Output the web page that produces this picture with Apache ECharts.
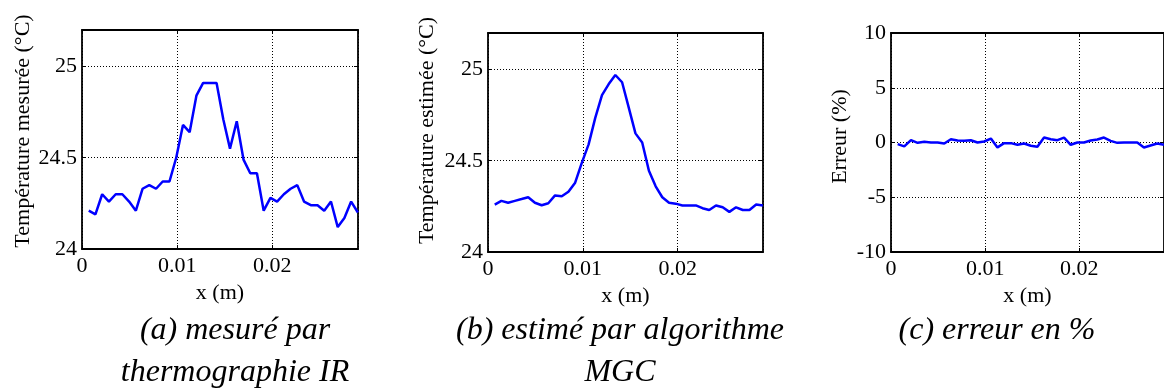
<!DOCTYPE html>
<html><head><meta charset="utf-8">
<script src="https://cdn.jsdelivr.net/npm/echarts@6/dist/echarts.min.js"></script>
<style>html,body{margin:0;padding:0;background:#fff;overflow:hidden}#c{width:1164px;height:389px}</style>
</head><body><div id="c"></div><script>
// Positions along x (m)
const xPos = [0.00071,0.00141,0.00212,0.00283,0.00354,0.00424,0.00495,0.00566,0.00636,0.00707,
  0.00778,0.00848,0.00919,0.00990,0.01061,0.01131,0.01202,0.01273,0.01343,0.01414,
  0.01485,0.01555,0.01626,0.01697,0.01768,0.01838,0.01909,0.01980,0.02050,0.02121,
  0.02192,0.02262,0.02333,0.02404,0.02475,0.02545,0.02616,0.02687,0.02757,0.02828,0.02899];
// (a) measured temperature (°C)
const tempMeasured = [24.21,24.19,24.30,24.26,24.30,24.30,24.26,24.21,24.33,24.35,
  24.33,24.37,24.37,24.50,24.68,24.64,24.84,24.91,24.91,24.91,
  24.71,24.55,24.70,24.49,24.415,24.415,24.21,24.28,24.26,24.30,
  24.33,24.35,24.26,24.24,24.24,24.21,24.26,24.12,24.17,24.26,24.20];
// (b) estimated temperature (°C)
const tempEstimated = [24.26,24.28,24.27,24.28,24.29,24.30,24.27,24.256,24.267,24.31,
  24.305,24.33,24.38,24.49,24.59,24.735,24.86,24.92,24.97,24.93,
  24.79,24.65,24.60,24.445,24.36,24.30,24.27,24.265,24.255,24.255,
  24.255,24.24,24.23,24.255,24.245,24.22,24.245,24.23,24.23,24.26,24.255];
// (c) error (%)
const errorPct = [-0.15,-0.36,0.21,-0.03,0.06,0,0,-0.09,0.30,0.18,
  0.15,0.21,0,0.09,0.36,-0.45,-0.06,-0.06,-0.21,-0.09,
  -0.30,-0.39,0.45,0.30,0.21,0.45,-0.21,0,0,0.18,
  0.27,0.45,0.15,-0.03,0,0,0,-0.45,-0.27,-0.09,-0.21];
const xTicks = [0, 0.01, 0.02];
const tempTicks = [24, 24.5, 25];
const errTicks = [-10, -5, 0, 5, 10];
const yNames = ['Température mesurée (°C)', 'Température estimée (°C)', 'Erreur (%)'];
const captions = [['(a) mesuré par', 'thermographie IR'], ['(b) estimé par algorithme', 'MGC'], ['(c) erreur en %']];

const FONT = 'Liberation Serif';
const panels = [
  {left: 82, top: 30, width: 276, height: 219, ymin: 24, ymax: 25.2, yint: 0.5, yticks: tempTicks, data: tempMeasured, nameGap: 48, pad: 17, cx: 235},
  {left: 488, top: 33, width: 275, height: 219, ymin: 24, ymax: 25.2, yint: 0.5, yticks: tempTicks, data: tempEstimated, nameGap: 50, pad: 24, cx: 620},
  {left: 891, top: 33, width: 275, height: 219, ymin: -10, ymax: 10, yint: 5, yticks: errTicks, data: errorPct, nameGap: 40, pad: 12, cx: 997}
];
function fmtFrom(list) {
  return function (v) {
    for (const t of list) if (Math.abs(v - t) < 1e-9) return String(t);
    return '';
  };
}
const grid = [], xAxis = [], yAxis = [], series = [], graphic = [];
const lineStyle = {color: '#000', width: 1.8};
const split = {show: true, lineStyle: {color: '#000', width: 1, type: [1, 2]}};
const textBase = {color: '#000', fontFamily: FONT, fontSize: 22};
panels.forEach((p, i) => {
  grid.push({left: p.left, top: p.top, width: p.width, height: p.height, containLabel: false});
  xAxis.push({
    type: 'value', gridIndex: i, min: 0, max: 0.029, interval: 0.01, position: 'bottom',
    axisLine: {show: true, onZero: false, lineStyle},
    axisTick: {show: true, inside: true, length: 4, lineStyle: {color: '#000'}},
    axisLabel: Object.assign({margin: 6, formatter: fmtFrom(xTicks), showMaxLabel: false}, textBase),
    splitLine: split,
    name: 'x (m)', nameLocation: 'middle', nameGap: 29, nameTextStyle: textBase
  });
  xAxis.push({
    type: 'value', gridIndex: i, min: 0, max: 0.029, interval: 0.01, position: 'top',
    axisLine: {show: true, onZero: false, lineStyle},
    axisTick: {show: true, inside: true, length: 4, lineStyle: {color: '#000'}},
    axisLabel: {show: false}, splitLine: {show: false}
  });
  yAxis.push({
    type: 'value', gridIndex: i, min: p.ymin, max: p.ymax, interval: p.yint, position: 'left',
    axisLine: {show: true, onZero: false, lineStyle},
    axisTick: {show: true, inside: true, length: 4, lineStyle: {color: '#000'}},
    axisLabel: Object.assign({margin: 5, formatter: fmtFrom(p.yticks)}, textBase),
    splitLine: split,
    name: yNames[i], nameLocation: 'middle', nameGap: p.nameGap,
    nameTextStyle: Object.assign({padding: [0, 0, 0, p.pad]}, textBase)
  });
  yAxis.push({
    type: 'value', gridIndex: i, min: p.ymin, max: p.ymax, interval: p.yint, position: 'right',
    axisLine: {show: true, onZero: false, lineStyle},
    axisTick: {show: true, inside: true, length: 4, lineStyle: {color: '#000'}},
    axisLabel: {show: false}, splitLine: {show: false}
  });
  series.push({
    type: 'line', xAxisIndex: 2 * i, yAxisIndex: 2 * i,
    data: xPos.map((x, k) => [x, p.data[k]]),
    showSymbol: false, symbol: 'none', smooth: false,
    lineStyle: {color: '#0000ff', width: 2.5}, itemStyle: {color: '#0000ff'}
  });
  captions[i].forEach((t, j) => {
    graphic.push({
      type: 'text', x: p.cx, y: 331 + j * 42,
      style: {text: t, align: 'center', verticalAlign: 'middle', font: 'italic 32px "' + FONT + '"', fill: '#000'}
    });
  });
});
const chart = echarts.init(document.getElementById('c'), null, {renderer: 'canvas'});
chart.setOption({animation: false, backgroundColor: '#fff', grid, xAxis, yAxis, series, graphic});
</script></body></html>
